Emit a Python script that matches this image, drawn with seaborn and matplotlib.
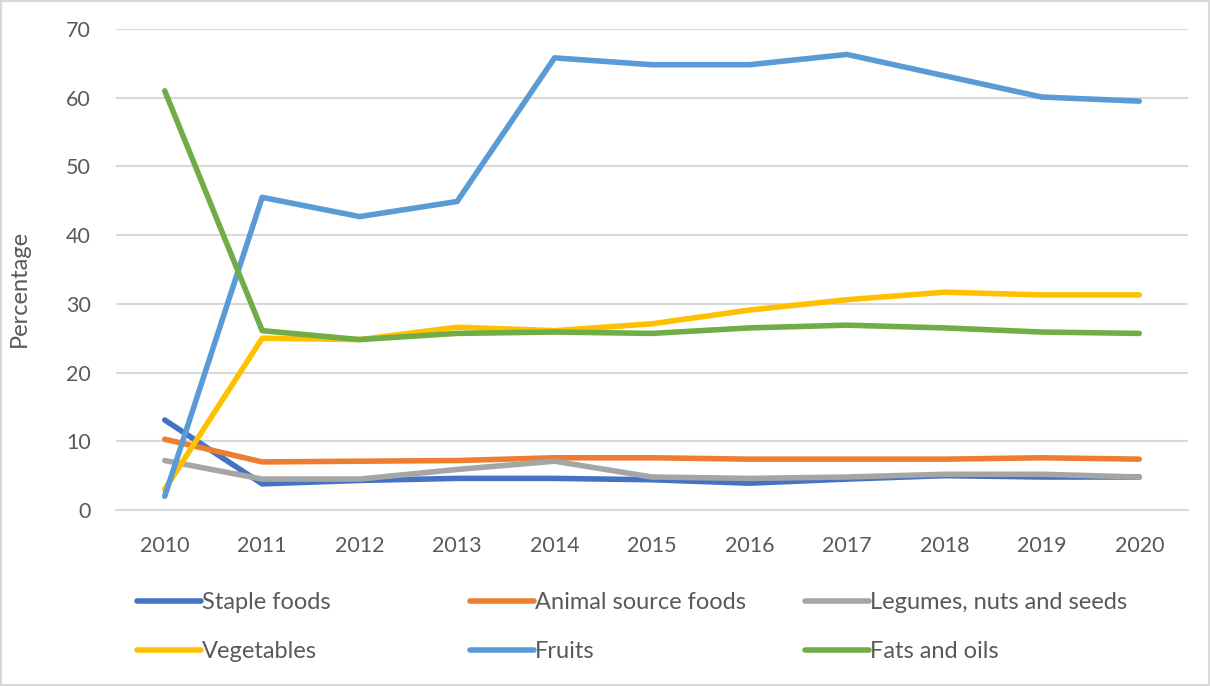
import matplotlib
matplotlib.use("Agg")
import matplotlib.pyplot as plt
import seaborn as sns
import pandas as pd

years = [2010, 2011, 2012, 2013, 2014, 2015, 2016, 2017, 2018, 2019, 2020]
staple = [13.1, 3.8, 4.3, 4.6, 4.6, 4.4, 3.9, 4.5, 5.0, 4.8, 4.8]
animal = [10.3, 7.0, 7.1, 7.2, 7.6, 7.6, 7.4, 7.4, 7.4, 7.6, 7.4]
legumes = [7.2, 4.5, 4.5, 5.9, 7.1, 4.8, 4.6, 4.8, 5.2, 5.2, 4.8]
vegetables = [3.0, 25.0, 24.8, 26.6, 26.1, 27.1, 29.1, 30.6, 31.7, 31.3, 31.3]
fruits = [2.0, 45.5, 42.7, 44.9, 65.8, 64.8, 64.8, 66.3, 63.2, 60.1, 59.5]
fats = [61.0, 26.1, 24.8, 25.7, 25.9, 25.7, 26.5, 26.9, 26.5, 25.9, 25.7]

series_names = ["Staple foods", "Animal source foods", "Legumes, nuts and seeds",
                "Vegetables", "Fruits", "Fats and oils"]
series_values = [staple, animal, legumes, vegetables, fruits, fats]
colors = ["#4472C4", "#ED7D31", "#A5A5A5", "#FFC000", "#5B9BD5", "#70AD47"]

rows = []
for name, vals in zip(series_names, series_values):
    for y, v in zip(years, vals):
        rows.append({"Year": y, "Value": v, "Series": name})
df = pd.DataFrame(rows)

sns.set_theme(style="white")
plt.rcParams["font.family"] = ["Lato", "DejaVu Sans"]
text_color = "#595959"

fig = plt.figure(figsize=(12.1, 6.86), dpi=100)
ax = fig.add_axes([116 / 1210, 1 - 510 / 686, (1188 - 116) / 1210, (510 - 29) / 686])

sns.lineplot(data=df, x="Year", y="Value", hue="Series", hue_order=series_names,
             palette=colors, linewidth=4, ax=ax, legend=False,
             solid_capstyle="round", solid_joinstyle="round")

ax.set_xlim(2009.5, 2020.5)
ax.set_ylim(0, 70)
ax.set_yticks(range(0, 71, 10))
ax.set_xticks(years)
ax.set_xticklabels([str(y) for y in years])
ax.yaxis.grid(True, color="#d9d9d9", linewidth=1.5)
ax.set_axisbelow(True)
for s in ["top", "right", "left"]:
    ax.spines[s].set_visible(False)
ax.spines["bottom"].set_color("#d9d9d9")
ax.spines["bottom"].set_linewidth(1.5)
ax.tick_params(axis="both", length=0, labelsize=15.5, colors=text_color)
ax.tick_params(axis="x", pad=19)
ax.tick_params(axis="y", pad=18)
ax.set_xlabel("")
ax.set_ylabel("Percentage", fontsize=17, color=text_color)
ax.yaxis.set_label_coords(-0.08, 0.46)

col_x = [137, 470, 805]
for c in range(3):
    idx = [c, c + 3]
    hs = [plt.Line2D([0], [0], color=colors[i], linewidth=4, solid_capstyle="round") for i in idx]
    fig.legend(hs, [series_names[i] for i in idx], loc="upper left",
               bbox_to_anchor=(col_x[c] / 1210, 1 - 592 / 686),
               frameon=False, fontsize=17, labelcolor=text_color, borderpad=0,
               borderaxespad=0, handlelength=2.7, handletextpad=0.05, labelspacing=1.18)

border = plt.Rectangle((0.001, 0.001), 0.998, 0.997, transform=fig.transFigure,
                       fill=False, edgecolor="#d9d9d9", linewidth=1.5)
fig.patches.append(border)

fig.savefig("out.png", dpi=100)
